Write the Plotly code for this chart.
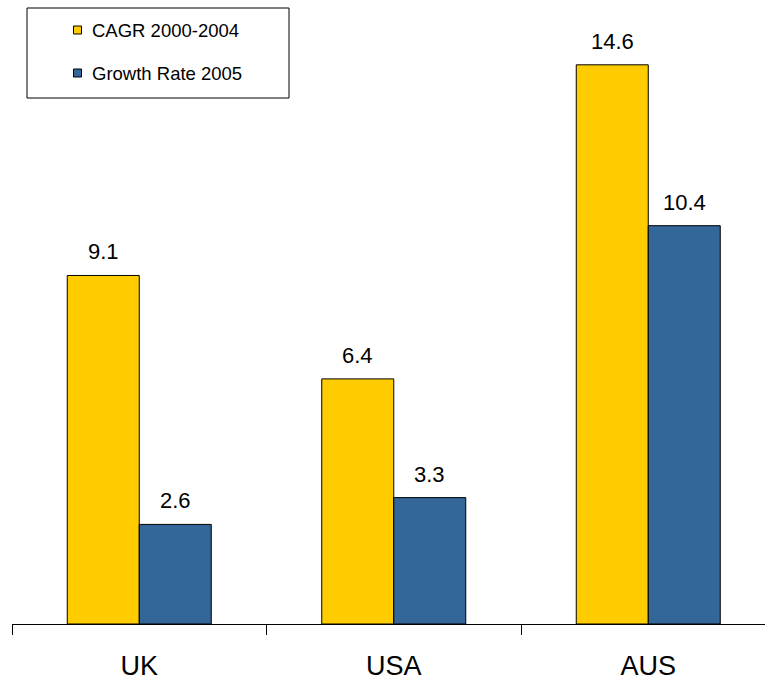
import plotly.graph_objects as go

# Data
countries = ["UK", "USA", "AUS"]
series_names = ["CAGR 2000-2004", "Growth Rate 2005"]
cagr_2000_2004 = [9.1, 6.4, 14.6]
growth_rate_2005 = [2.6, 3.3, 10.4]
series_values = [cagr_2000_2004, growth_rate_2005]
series_colors = ["#FFCC00", "#336699"]

W, H = 765, 682
L, R, T, B = 12, 0, 0, 58
PW, PH = W - L - R, H - T - B
CAT_W = 254.5          # pixel width of one category slot
Y_PER_UNIT = 38.3      # pixels per unit on the value axis

FONT = "Arial, Liberation Sans, sans-serif"

fig = go.Figure()
for name, vals, col in zip(series_names, series_values, series_colors):
    fig.add_trace(go.Bar(
        x=countries, y=vals, name=name,
        marker=dict(color=col, line=dict(color="black", width=1)),
        showlegend=False,
    ))

# value labels above each bar
bar_w = 72 / CAT_W
offsets = [-bar_w / 2, bar_w / 2]
annotations = []
for vals, off in zip(series_values, offsets):
    for i, v in enumerate(vals):
        annotations.append(dict(
            x=i + off, y=v, xref="x", yref="y", text=f"{v:.1f}",
            showarrow=False, yanchor="bottom", xanchor="center", yshift=9,
            font=dict(family=FONT, size=22, color="black"),
        ))

def px_x(p):
    return (p - L) / PW

def px_y(p):
    return 1 - (p - T) / PH

shapes = []
# legend frame
shapes.append(dict(type="rect", xref="paper", yref="paper",
                   x0=px_x(27), x1=px_x(289), y0=px_y(8), y1=px_y(98),
                   line=dict(color="black", width=1), fillcolor="white", layer="above"))
legend_rows = [30, 73]
for name, col, cy in zip(series_names, series_colors, legend_rows):
    shapes.append(dict(type="rect", xref="paper", yref="paper",
                       x0=px_x(73.5), x1=px_x(81.5), y0=px_y(cy - 4), y1=px_y(cy + 4),
                       line=dict(color="black", width=1), fillcolor=col, layer="above"))
    annotations.append(dict(
        x=px_x(90), y=px_y(cy), xref="paper", yref="paper", text=name,
        showarrow=False, xanchor="left", yanchor="middle",
        font=dict(family=FONT, size=18.5, color="black"),
    ))

fig.update_layout(
    width=W, height=H,
    margin=dict(l=L, r=R, t=T, b=B, pad=0),
    paper_bgcolor="white", plot_bgcolor="white",
    barmode="group", bargap=1 - 2 * 72 / CAT_W, bargroupgap=0,
    annotations=annotations, shapes=shapes,
    xaxis=dict(
        type="category", range=[-0.5, -0.5 + PW / CAT_W],
        showline=True, linecolor="black", linewidth=1,
        ticks="outside", tickson="boundaries", ticklen=10, tickcolor="black", tickwidth=1,
        tickfont=dict(family=FONT, size=27, color="black"),
        ticklabelstandoff=18,
        showgrid=False, zeroline=False,
    ),
    yaxis=dict(
        range=[0, PH / Y_PER_UNIT], visible=False, showgrid=False, zeroline=False,
    ),
)

fig.write_html("out.html")
